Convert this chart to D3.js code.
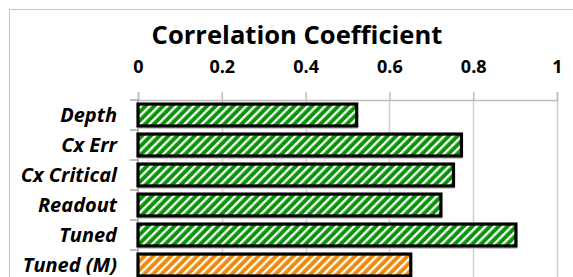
<!DOCTYPE html>
<html>
<head>
<meta charset="utf-8">
<script src="https://cdn.jsdelivr.net/npm/d3@7"></script>
<style>
  body { margin: 0; background: #fff; }
  svg { display: block; }
  text { font-family: "Open Sans", "DejaVu Sans", sans-serif; }
</style>
</head>
<body>
<div id="chart"></div>
<script>
// Chart data
const categories = ['Depth', 'Cx Err', 'Cx Critical', 'Readout', 'Tuned', 'Tuned (M)'];
const values = [0.522, 0.772, 0.753, 0.723, 0.902, 0.651];
const barColors = ['#089508', '#089508', '#089508', '#089508', '#089508', '#f0880a'];
const tickValues = [0, 0.2, 0.4, 0.6, 0.8, 1];
const title = 'Correlation Coefficient';

const width = 573, height = 277;
const plotLeft = 138, plotRight = 557, plotTop = 100, step = 30;

const svg = d3.select('#chart')
    .append('svg')
    .attr('width', width)
    .attr('height', height);

// Stripe patterns, one per colour
const defs = svg.append('defs');
Array.from(new Set(barColors)).forEach(c => {
    const p = defs.append('pattern')
        .attr('id', 'stripe' + c.slice(1))
        .attr('patternUnits', 'userSpaceOnUse')
        .attr('width', 6.2)
        .attr('height', 6.2)
        .attr('patternTransform', 'rotate(45)');
    p.append('rect').attr('width', 6.2).attr('height', 6.2).attr('fill', c);
    p.append('rect').attr('width', 2.3).attr('height', 6.2).attr('fill', '#fff');
});

// Outer chart border (cropped on right and bottom)
svg.append('rect')
    .attr('x', 9.5).attr('y', 9.5)
    .attr('width', width + 20).attr('height', height + 20)
    .attr('fill', 'none')
    .attr('stroke', '#c4c4c4')
    .attr('stroke-width', 1);

const x = d3.scaleLinear().domain([0, 1]).range([plotLeft, plotRight]);
const y = d3.scaleBand()
    .domain(categories)
    .range([plotTop, plotTop + step * categories.length])
    .paddingInner(0.27)
    .paddingOuter(0.135);

// Vertical gridlines
svg.append('g')
    .selectAll('line')
    .data(tickValues.slice(1))
    .enter()
    .append('line')
    .attr('x1', d => Math.round(x(d)) + 0.5)
    .attr('x2', d => Math.round(x(d)) + 0.5)
    .attr('y1', plotTop)
    .attr('y2', height)
    .attr('stroke', '#cfcfcf')
    .attr('stroke-width', 1.5);

// Top axis
const xAxis = svg.append('g')
    .attr('transform', `translate(0,${plotTop})`)
    .call(d3.axisTop(x).tickValues(tickValues).tickFormat(d => d).tickSize(8).tickPadding(19));
xAxis.select('.domain').attr('stroke', '#bcbcbc').attr('stroke-width', 1.5);
xAxis.selectAll('.tick line').attr('stroke', '#bcbcbc').attr('stroke-width', 1.5);
xAxis.selectAll('.tick text')
    .attr('fill', '#000')
    .style('font-size', '18px')
    .style('font-weight', 'bold')
    .style('font-family', '"Open Sans", sans-serif');

// Left axis with ticks at category boundaries
svg.append('line')
    .attr('x1', plotLeft).attr('x2', plotLeft)
    .attr('y1', plotTop).attr('y2', height)
    .attr('stroke', '#a6a6a6').attr('stroke-width', 1.5);
svg.append('g')
    .selectAll('line')
    .data(d3.range(categories.length))
    .enter()
    .append('line')
    .attr('x1', plotLeft - 8).attr('x2', plotLeft)
    .attr('y1', i => y.range()[0] + i * y.step())
    .attr('y2', i => y.range()[0] + i * y.step())
    .attr('stroke', '#a6a6a6').attr('stroke-width', 1.5);

// Category labels
svg.append('g')
    .selectAll('text')
    .data(categories)
    .enter()
    .append('text')
    .attr('x', 117)
    .attr('y', d => y(d) + y.bandwidth() / 2 + 7)
    .attr('text-anchor', 'end')
    .style('font-size', '20px')
    .style('font-weight', 'bold')
    .style('font-style', 'italic')
    .text(d => d);

// Bar shadows
svg.append('g')
    .selectAll('rect')
    .data(values)
    .enter()
    .append('rect')
    .attr('x', x(0) + 1)
    .attr('y', (d, i) => y(categories[i]) + 3)
    .attr('width', d => x(d) - x(0))
    .attr('height', y.bandwidth())
    .attr('fill', '#c8c8c8');

// Bars
svg.append('g')
    .selectAll('rect')
    .data(values)
    .enter()
    .append('rect')
    .attr('x', x(0))
    .attr('y', (d, i) => y(categories[i]))
    .attr('width', d => x(d) - x(0))
    .attr('height', y.bandwidth())
    .attr('fill', (d, i) => `url(#stripe${barColors[i].slice(1)})`)
    .attr('stroke', '#000')
    .attr('stroke-width', 3.2);

// Title, sized to the reference width
const t = svg.append('text')
    .attr('x', 297)
    .attr('y', 44)
    .attr('text-anchor', 'middle')
    .style('font-size', '22px')
    .style('font-weight', 'bold')
    .text(title);
const tw = t.node().getComputedTextLength();
t.style('font-size', (22 * 291 / tw) + 'px');
</script>
</body>
</html>
